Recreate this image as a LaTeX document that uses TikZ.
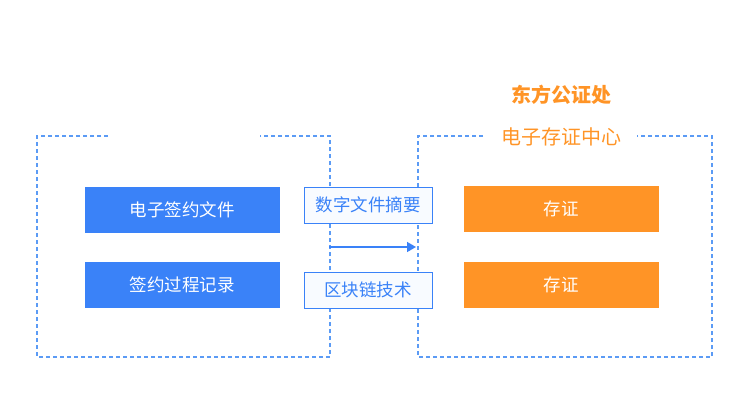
\documentclass[tikz,border=0pt]{standalone}
\usepackage{fontspec}
\setmainfont{Noto Sans CJK SC}
\usetikzlibrary{arrows.meta,positioning}
\definecolor{kblue}{HTML}{3A82F8}
\definecolor{kdash}{HTML}{5B9BF5}
\definecolor{korange}{HTML}{FF9426}
\definecolor{kpale}{HTML}{F8FBFF}
\tikzset{
    srcbox/.style={fill=kblue, text=white, minimum width=195pt, minimum height=46pt, font=\fontsize{17.5}{20}\selectfont},
    keepbox/.style={fill=korange, text=white, minimum width=195pt, minimum height=46pt, font=\fontsize{17.5}{20}\selectfont},
    techbox/.style={draw=kblue, fill=kpale, text=kblue, line width=1pt, minimum width=128pt, minimum height=36pt, font=\fontsize{17.5}{20}\selectfont},
    zone/.style={draw=kdash, line width=1.3pt, dash pattern=on 4pt off 3pt}
}
\begin{document}
\begin{tikzpicture}[x=1pt, y=-1pt]
                        \useasboundingbox (0, 0) rectangle (750, 400);
                        \begin{scope}[shift={(37, 136)}]
                            \draw[zone] (71, 0) -- (0, 0) -- (0, 221) -- (293, 221) -- (293, 0) -- (223, 0);
                            \node[srcbox] (doc) at (145, 74) {电子签约文件};
                            \node[srcbox] (log) at (145, 149) {签约过程记录};
                            \coordinate (out) at (292, 111);
                        \end{scope}
                        \begin{scope}[shift={(418, 136)}]
                            \draw[zone] (65, 0) -- (0, 0) -- (0, 221) -- (294, 221) -- (294, 0) -- (219, 0);
                            \node[text=korange, font=\fontsize{20}{22}\selectfont] (center) at (143, 1) {电子存证中心};
                            \node[text=korange, font=\fontsize{20}{22}\selectfont\bfseries] (notary) at (143, -41) {东方公证处};
                            \node[keepbox] (keep1) at (143, 73) {存证};
                            \node[keepbox] (keep2) at (143, 149) {存证};
                            \coordinate (in) at (-2, 111);
                        \end{scope}
                        \node[techbox] (hash) at (368, 205) {数字文件摘要};
                        \node[techbox] (chain) at (368, 290) {区块链技术};
                        \draw[kblue, line width=1.5pt, -{Triangle[length=9pt, width=10pt]}] (out) -- (in);
                    \end{tikzpicture}
\end{document}
